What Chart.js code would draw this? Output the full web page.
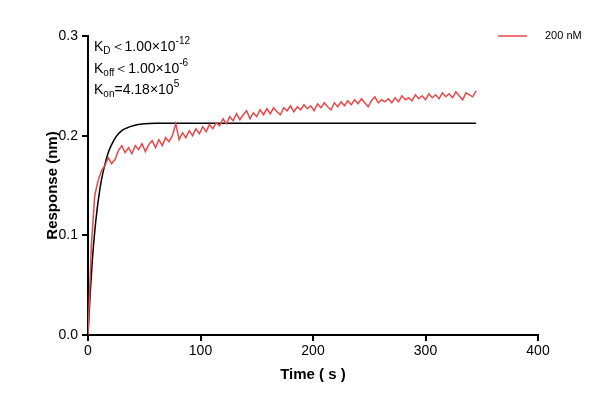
<!DOCTYPE html>
<html>
<head>
<meta charset="utf-8">
<script src="https://cdn.jsdelivr.net/npm/chart.js@4/dist/chart.umd.min.js"></script>
<style>
  body { margin: 0; background: #fff; }
</style>
</head>
<body>
<canvas id="c" width="610" height="412"></canvas>
<script>
// measured sensorgram, one point every 3 s
const stepSeconds = 3;
const responseValues = [0, 0.09, 0.14, 0.155, 0.165, 0.17, 0.178, 0.172, 0.176, 0.185, 0.19, 0.183, 0.188, 0.182, 0.19, 0.186,
  0.192, 0.184, 0.191, 0.195, 0.188, 0.196, 0.19, 0.198, 0.194, 0.2, 0.212, 0.196, 0.203, 0.198, 0.205, 0.2, 0.207, 0.202,
  0.209, 0.204, 0.211, 0.207, 0.213, 0.21, 0.217, 0.212, 0.219, 0.215, 0.222, 0.216, 0.221, 0.225, 0.217, 0.223, 0.219,
  0.226, 0.221, 0.227, 0.222, 0.228, 0.224, 0.221, 0.228, 0.225, 0.23, 0.224, 0.229, 0.226, 0.231, 0.227, 0.23, 0.225,
  0.232, 0.228, 0.233, 0.229, 0.226, 0.233, 0.229, 0.234, 0.23, 0.235, 0.231, 0.236, 0.232, 0.237, 0.233, 0.229, 0.235,
  0.239, 0.233, 0.236, 0.234, 0.237, 0.233, 0.238, 0.234, 0.24, 0.236, 0.238, 0.235, 0.241, 0.237, 0.24, 0.236, 0.242,
  0.238, 0.241, 0.237, 0.243, 0.239, 0.242, 0.238, 0.244, 0.24, 0.236, 0.243, 0.241, 0.239, 0.245];

// fitted curve
const fitTimes = [0, 2, 4, 6, 8, 10, 12, 15, 18, 21, 25, 30, 35, 40, 50, 60, 80, 100, 150, 200, 250, 300, 345];
const fitValues = [0, 0.043, 0.077, 0.104, 0.125, 0.142, 0.156, 0.171, 0.183, 0.191, 0.199, 0.205, 0.208, 0.21, 0.212,
  0.2125, 0.2125, 0.2125, 0.2125, 0.2125, 0.2125, 0.2125, 0.2125];

const seriesLabel = '200 nM';
const xTicks = [0, 100, 200, 300, 400];
const yTicks = [0, 0.1, 0.2, 0.3];

const redPoints = responseValues.map((v, i) => ({ x: i * stepSeconds, y: v }));
const fitPoints = fitTimes.map((t, i) => ({ x: t, y: fitValues[i] }));

const FONT = '"Liberation Sans", Arial, sans-serif';

// kinetic constants text and legend, drawn on top
const annotations = {
  id: 'annotations',
  afterDraw(chart) {
    const ctx = chart.ctx;
    ctx.save();
    ctx.fillStyle = '#000';
    ctx.textBaseline = 'alphabetic';
    function line(x, y, parts) {
      parts.forEach(p => {
        const size = p.s ? 10 : 14;
        ctx.font = size + 'px ' + FONT;
        const dy = p.s === 'sub' ? 3 : p.s === 'sup' ? -7 : 0;
        ctx.fillText(p.t, x, y + dy);
        x += ctx.measureText(p.t).width;
      });
    }
    line(94, 51, [{ t: 'K' }, { t: 'D', s: 'sub' }, { t: '＜1.00×10' }, { t: '-12', s: 'sup' }]);
    line(94, 73, [{ t: 'K' }, { t: 'off', s: 'sub' }, { t: '＜1.00×10' }, { t: '-6', s: 'sup' }]);
    line(94, 94, [{ t: 'K' }, { t: 'on', s: 'sub' }, { t: '=4.18×10' }, { t: '5', s: 'sup' }]);

    ctx.strokeStyle = '#e8484a';
    ctx.lineWidth = 1.5;
    ctx.beginPath();
    ctx.moveTo(498, 36);
    ctx.lineTo(527, 36);
    ctx.stroke();
    ctx.font = '11px ' + FONT;
    ctx.textBaseline = 'middle';
    ctx.fillText(seriesLabel, 545, 36);
    ctx.restore();
  }
};

new Chart(document.getElementById('c'), {
  type: 'line',
  data: {
    datasets: [
      { label: seriesLabel, data: redPoints, borderColor: '#e8484a', borderWidth: 1.5, pointRadius: 0, tension: 0, fill: false },
      { label: 'fit', data: fitPoints, borderColor: '#000', borderWidth: 1.5, pointRadius: 0, cubicInterpolationMode: 'monotone', fill: false }
    ]
  },
  options: {
    responsive: false,
    animation: false,
    layout: { padding: { top: 36, right: 72, left: 40, bottom: 24 } },
    plugins: { legend: { display: false }, tooltip: { enabled: false } },
    scales: {
      x: {
        type: 'linear', min: 0, max: 400,
        afterBuildTicks: s => { s.ticks = xTicks.map(v => ({ value: v })); },
        afterFit: s => { s.height = 53; },
        grid: { drawOnChartArea: false, color: '#000', lineWidth: 2, tickLength: 6 },
        border: { color: '#000', width: 2 },
        ticks: { color: '#000', font: { family: FONT, size: 14 }, padding: 2 },
        title: { display: true, text: 'Time ( s )', color: '#000', font: { family: FONT, size: 15, weight: 'bold' }, padding: { top: 0 } }
      },
      y: {
        type: 'linear', min: 0, max: 0.3,
        afterBuildTicks: s => { s.ticks = yTicks.map(v => ({ value: v })); },
        afterFit: s => { s.width = 48; },
        grid: { drawOnChartArea: false, color: '#000', lineWidth: 2, tickLength: 6 },
        border: { color: '#000', width: 2 },
        ticks: { color: '#000', font: { family: FONT, size: 14 }, padding: 4, callback: v => v.toFixed(1) },
        title: { display: true, text: 'Response (nm)', color: '#000', font: { family: FONT, size: 15, weight: 'bold' }, padding: { bottom: 2 } }
      }
    }
  },
  plugins: [annotations]
});
</script>
</body>
</html>
